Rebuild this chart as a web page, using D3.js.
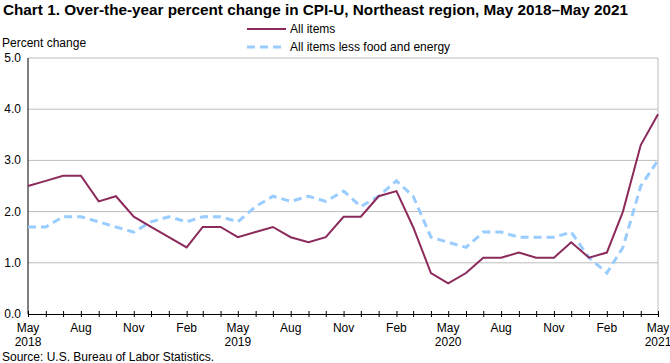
<!DOCTYPE html>
<html>
<head>
<meta charset="utf-8">
<script src="https://cdn.jsdelivr.net/npm/d3@7"></script>
<style>
  body { margin: 0; background: #fff; }
  text { font-family: "Liberation Sans", Arial, sans-serif; fill: #000; }
</style>
</head>
<body>
<script>
// months May 2018 .. May 2021
const months = d3.range(37).map(i => new Date(2018, 4 + i, 1))

// All items, CPI-U Northeast
const allItems = [2.5, 2.6, 2.7, 2.7, 2.2, 2.3, 1.9, 1.7, 1.5, 1.3, 1.7, 1.7,
  1.5, 1.6, 1.7, 1.5, 1.4, 1.5, 1.9, 1.9, 2.3, 2.4, 1.7, 0.8,
  0.6, 0.8, 1.1, 1.1, 1.2, 1.1, 1.1, 1.4, 1.1, 1.2, 2.0, 3.3, 3.9]

// All items less food and energy
const coreItems = [1.7, 1.7, 1.9, 1.9, 1.8, 1.7, 1.6, 1.8, 1.9, 1.8, 1.9, 1.9,
  1.8, 2.1, 2.3, 2.2, 2.3, 2.2, 2.4, 2.1, 2.3, 2.6, 2.3, 1.5,
  1.4, 1.3, 1.6, 1.6, 1.5, 1.5, 1.5, 1.6, 1.1, 0.8, 1.3, 2.5, 3.0]

const yTicks = [0, 1, 2, 3, 4, 5]
const monthNames = ["Jan", "Feb", "Mar", "Apr", "May", "Jun", "Jul", "Aug", "Sep", "Oct", "Nov", "Dec"]

const width = 670, height = 363
const svg = d3.select("body").append("svg").attr("width", width).attr("height", height)

let x = d3.scaleTime().domain([months[0], months[36]]).range([28, 658])
let y = d3.scaleLinear().domain([0, 5]).range([314, 58])
let fs = 12

// title
svg.append("text")
    .attr("x", 3).attr("y", 15)
    .attr("font-weight", "bold").attr("font-size", 14)
    .attr("textLength", 625).attr("lengthAdjust", "spacingAndGlyphs")
    .text("Chart 1. Over-the-year percent change in CPI-U, Northeast region, May 2018\u2013May 2021")

svg.append("text").attr("x", 2).attr("y", 47).attr("font-size", fs).text("Percent change")

// gridlines
svg.append("g").selectAll("line").data(yTicks.filter(d => d > 0)).join("line")
    .attr("x1", 28).attr("x2", 658)
    .attr("y1", d => y(d)).attr("y2", d => y(d))
    .attr("stroke", "#bdbdbd").attr("stroke-width", 1)
svg.append("line").attr("x1", 658).attr("x2", 658).attr("y1", y(5)).attr("y2", y(0))
    .attr("stroke", "#bdbdbd")

// y axis labels
svg.append("g").selectAll("text").data(yTicks).join("text")
    .attr("x", 21).attr("y", d => y(d) + 4)
    .attr("text-anchor", "end").attr("font-size", fs)
    .text(d => d.toFixed(1))

// axes
svg.append("line").attr("x1", 28).attr("x2", 28).attr("y1", y(5)).attr("y2", y(0))
    .attr("stroke", "#000")
let xAxis = d3.axisBottom(x).tickValues(months).tickSize(3).tickFormat("")
let gx = svg.append("g").attr("transform", "translate(0," + y(0) + ")").call(xAxis)
gx.select(".domain").attr("stroke", "#000")
gx.selectAll(".tick line").attr("y1", -3).attr("stroke", "#000")

// x labels every 3 months
let labelMonths = months.filter((d, i) => i % 3 === 0)
svg.append("g").selectAll("text").data(labelMonths).join("text")
    .attr("x", d => x(d)).attr("y", 332)
    .attr("text-anchor", "middle").attr("font-size", fs)
    .text(d => monthNames[d.getMonth()])
svg.append("g").selectAll("text").data(labelMonths.filter(d => d.getMonth() === 4)).join("text")
    .attr("x", d => x(d)).attr("y", 346)
    .attr("text-anchor", "middle").attr("font-size", fs)
    .text(d => d.getFullYear())

// lines
let line = d3.line().x((d, i) => x(months[i])).y(d => y(d))
svg.append("path").datum(coreItems).attr("d", line)
    .attr("fill", "none").attr("stroke", "#99ccff").attr("stroke-width", 3)
    .attr("stroke-dasharray", "8,5")
svg.append("path").datum(allItems).attr("d", line)
    .attr("fill", "none").attr("stroke", "#8b2a5b").attr("stroke-width", 2)

// legend
svg.append("line").attr("x1", 247).attr("x2", 286).attr("y1", 29).attr("y2", 29)
    .attr("stroke", "#8b2a5b").attr("stroke-width", 2)
svg.append("text").attr("x", 290).attr("y", 33).attr("font-size", fs).text("All items")
svg.append("line").attr("x1", 247).attr("x2", 286).attr("y1", 47).attr("y2", 47)
    .attr("stroke", "#99ccff").attr("stroke-width", 3).attr("stroke-dasharray", "8,5")
svg.append("text").attr("x", 290).attr("y", 51).attr("font-size", fs).text("All items less food and energy")

svg.append("text").attr("x", 2).attr("y", 361).attr("font-size", fs).text("Source: U.S. Bureau of Labor Statistics.")
</script>
</body>
</html>
